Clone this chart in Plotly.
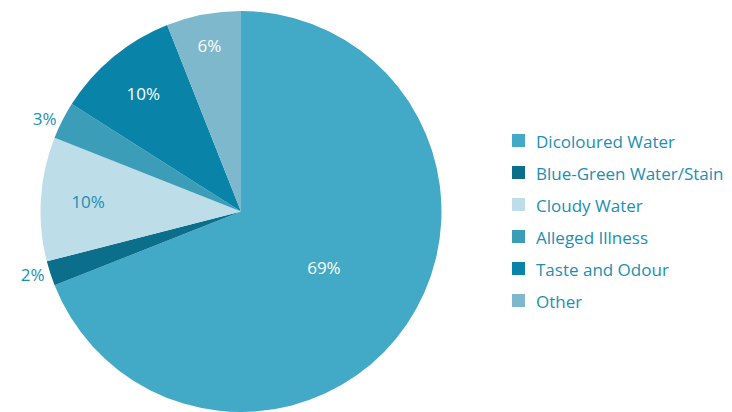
import plotly.graph_objects as go

labels = ["Dicoloured Water", "Blue-Green Water/Stain", "Cloudy Water",
          "Alleged Illness", "Taste and Odour", "Other"]
values = [69, 2, 10, 3, 10, 6]
colors = ["#42a9c7", "#0b6f8c", "#bddde8", "#3c9db8", "#0984a8", "#7eb8cc"]
text_positions = ["inside", "outside", "inside", "outside", "inside", "inside"]
text_colors = ["#ffffff", "#1b8fb3", "#1b8fb3", "#1b8fb3", "#ffffff", "#ffffff"]

W, H = 732, 412
fig = go.Figure(go.Pie(
    labels=labels, values=values, sort=False, direction="clockwise", rotation=0,
    marker=dict(colors=colors, line=dict(width=0)),
    texttemplate="%{value}%", textposition=text_positions,
    insidetextorientation="horizontal",
    textfont=dict(family="Open Sans", size=17, color=text_colors),
    domain=dict(x=[0, 2 * 241 / W], y=[0, 1 - 11 / H]),
    showlegend=False, automargin=False,
))

# custom legend (32px row spacing)
sq = 13
x0, y0, step = 512, 140.5, 32
for i, (lab, col) in enumerate(zip(labels, colors)):
    yc = y0 + i * step
    fig.add_shape(type="rect", xref="paper", yref="paper",
                  x0=x0 / W, x1=(x0 + sq) / W,
                  y0=1 - (yc + sq / 2) / H, y1=1 - (yc - sq / 2) / H,
                  fillcolor=col, line=dict(width=0))
    fig.add_annotation(xref="paper", yref="paper", x=534 / W, y=1 - (yc + 1) / H,
                       xanchor="left", yanchor="middle", showarrow=False,
                       text=lab, font=dict(family="Open Sans", size=17, color="#1b8fb3"))

fig.update_layout(
    width=W, height=H, margin=dict(l=0, r=0, t=0, b=0, autoexpand=False),
    paper_bgcolor="white", plot_bgcolor="white",
    font=dict(family="Open Sans", color="#1b8fb3"),
)
fig.write_html("out.html")
